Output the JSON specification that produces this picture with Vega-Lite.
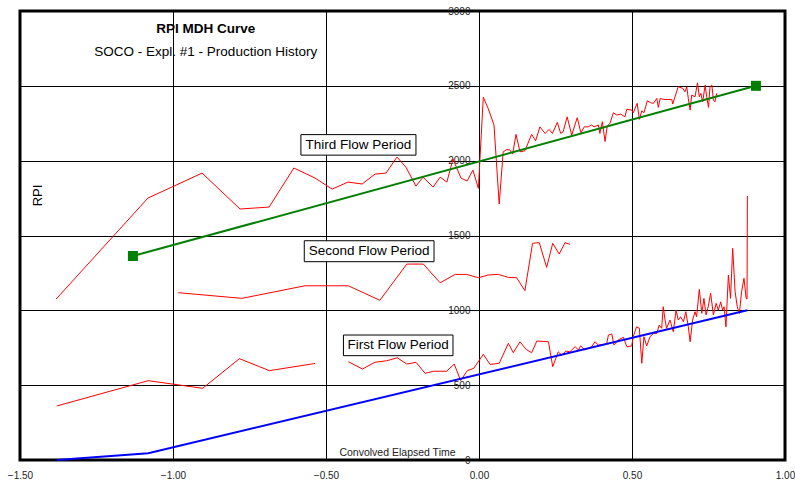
{
  "$schema": "https://vega.github.io/schema/vega-lite/v6.json",
  "width": 765,
  "height": 449,
  "autosize": "none",
  "padding": {"left": 20, "top": 11, "right": 10, "bottom": 24},
  "background": "white",
  "view": {"stroke": "black", "strokeWidth": 3},
  "config": {
    "font": "Liberation Sans",
    "axis": {"gridColor": "black", "gridWidth": 1, "gridOpacity": 1, "labelFont": "Liberation Sans", "labelColor": "#222", "labelFontSize": 10, "labelFlush": false, "labelOverlap": false, "domain": false, "ticks": false}
  },
  "datasets": {
    "rpi": [
      {"seg": "third", "t": -1.382, "rpi": 1075}, {"seg": "third", "t": -1.082, "rpi": 1750}, {"seg": "third", "t": -0.905, "rpi": 1917},
      {"seg": "third", "t": -0.781, "rpi": 1677}, {"seg": "third", "t": -0.686, "rpi": 1690}, {"seg": "third", "t": -0.605, "rpi": 1951},
      {"seg": "third", "t": -0.536, "rpi": 1884}, {"seg": "third", "t": -0.48, "rpi": 1810}, {"seg": "third", "t": -0.428, "rpi": 1857},
      {"seg": "third", "t": -0.382, "rpi": 1844}, {"seg": "third", "t": -0.34, "rpi": 1910}, {"seg": "third", "t": -0.304, "rpi": 1917},
      {"seg": "third", "t": -0.268, "rpi": 2024}, {"seg": "third", "t": -0.239, "rpi": 1957}, {"seg": "third", "t": -0.206, "rpi": 1830},
      {"seg": "third", "t": -0.183, "rpi": 1890}, {"seg": "third", "t": -0.15, "rpi": 1824}, {"seg": "third", "t": -0.127, "rpi": 1890},
      {"seg": "third", "t": -0.105, "rpi": 1857}, {"seg": "third", "t": -0.085, "rpi": 2011}, {"seg": "third", "t": -0.059, "rpi": 1884},
      {"seg": "third", "t": -0.039, "rpi": 1864}, {"seg": "third", "t": -0.02, "rpi": 1937}, {"seg": "third", "t": -0.002, "rpi": 1815},
      {"seg": "third", "t": 0.014, "rpi": 2423}, {"seg": "third", "t": 0.03, "rpi": 2349}, {"seg": "third", "t": 0.049, "rpi": 2238},
      {"seg": "third", "t": 0.066, "rpi": 1710}, {"seg": "third", "t": 0.079, "rpi": 2059}, {"seg": "third", "t": 0.091, "rpi": 2075},
      {"seg": "third", "t": 0.101, "rpi": 2071}, {"seg": "third", "t": 0.11, "rpi": 2044}, {"seg": "third", "t": 0.121, "rpi": 2176},
      {"seg": "third", "t": 0.134, "rpi": 2059}, {"seg": "third", "t": 0.15, "rpi": 2066}, {"seg": "third", "t": 0.172, "rpi": 2176},
      {"seg": "third", "t": 0.185, "rpi": 2133}, {"seg": "third", "t": 0.199, "rpi": 2226}, {"seg": "third", "t": 0.216, "rpi": 2182},
      {"seg": "third", "t": 0.229, "rpi": 2209}, {"seg": "third", "t": 0.24, "rpi": 2182}, {"seg": "third", "t": 0.256, "rpi": 2256},
      {"seg": "third", "t": 0.267, "rpi": 2182}, {"seg": "third", "t": 0.275, "rpi": 2193}, {"seg": "third", "t": 0.288, "rpi": 2293},
      {"seg": "third", "t": 0.303, "rpi": 2171}, {"seg": "third", "t": 0.321, "rpi": 2287}, {"seg": "third", "t": 0.333, "rpi": 2186},
      {"seg": "third", "t": 0.344, "rpi": 2226}, {"seg": "third", "t": 0.357, "rpi": 2226}, {"seg": "third", "t": 0.368, "rpi": 2238},
      {"seg": "third", "t": 0.376, "rpi": 2226}, {"seg": "third", "t": 0.39, "rpi": 2238}, {"seg": "third", "t": 0.395, "rpi": 2182},
      {"seg": "third", "t": 0.403, "rpi": 2260}, {"seg": "third", "t": 0.412, "rpi": 2128}, {"seg": "third", "t": 0.419, "rpi": 2231},
      {"seg": "third", "t": 0.428, "rpi": 2249}, {"seg": "third", "t": 0.439, "rpi": 2320}, {"seg": "third", "t": 0.45, "rpi": 2305},
      {"seg": "third", "t": 0.463, "rpi": 2311}, {"seg": "third", "t": 0.477, "rpi": 2293}, {"seg": "third", "t": 0.483, "rpi": 2343},
      {"seg": "third", "t": 0.499, "rpi": 2338}, {"seg": "third", "t": 0.504, "rpi": 2320}, {"seg": "third", "t": 0.517, "rpi": 2383},
      {"seg": "third", "t": 0.524, "rpi": 2276}, {"seg": "third", "t": 0.532, "rpi": 2333}, {"seg": "third", "t": 0.539, "rpi": 2320},
      {"seg": "third", "t": 0.55, "rpi": 2400}, {"seg": "third", "t": 0.561, "rpi": 2387}, {"seg": "third", "t": 0.57, "rpi": 2383},
      {"seg": "third", "t": 0.581, "rpi": 2416}, {"seg": "third", "t": 0.586, "rpi": 2356}, {"seg": "third", "t": 0.592, "rpi": 2416},
      {"seg": "third", "t": 0.603, "rpi": 2409}, {"seg": "third", "t": 0.63, "rpi": 2409}, {"seg": "third", "t": 0.633, "rpi": 2378},
      {"seg": "third", "t": 0.651, "rpi": 2494}, {"seg": "third", "t": 0.666, "rpi": 2483}, {"seg": "third", "t": 0.673, "rpi": 2460},
      {"seg": "third", "t": 0.679, "rpi": 2494}, {"seg": "third", "t": 0.684, "rpi": 2416}, {"seg": "third", "t": 0.69, "rpi": 2338},
      {"seg": "third", "t": 0.695, "rpi": 2438}, {"seg": "third", "t": 0.706, "rpi": 2427}, {"seg": "third", "t": 0.714, "rpi": 2520},
      {"seg": "third", "t": 0.72, "rpi": 2427}, {"seg": "third", "t": 0.725, "rpi": 2450}, {"seg": "third", "t": 0.731, "rpi": 2393},
      {"seg": "third", "t": 0.739, "rpi": 2505}, {"seg": "third", "t": 0.744, "rpi": 2427}, {"seg": "third", "t": 0.75, "rpi": 2356},
      {"seg": "third", "t": 0.755, "rpi": 2494}, {"seg": "third", "t": 0.761, "rpi": 2505}, {"seg": "third", "t": 0.766, "rpi": 2405},
      {"seg": "third", "t": 0.771, "rpi": 2393}, {"seg": "third", "t": 0.777, "rpi": 2450},

      {"seg": "second", "t": -0.983, "rpi": 1118}, {"seg": "second", "t": -0.775, "rpi": 1080}, {"seg": "second", "t": -0.569, "rpi": 1164},
      {"seg": "second", "t": -0.427, "rpi": 1164}, {"seg": "second", "t": -0.324, "rpi": 1067}, {"seg": "second", "t": -0.236, "rpi": 1309},
      {"seg": "second", "t": -0.182, "rpi": 1309}, {"seg": "second", "t": -0.127, "rpi": 1184}, {"seg": "second", "t": -0.078, "rpi": 1240},
      {"seg": "second", "t": -0.04, "rpi": 1240}, {"seg": "second", "t": -0.002, "rpi": 1218}, {"seg": "second", "t": 0.03, "rpi": 1236},
      {"seg": "second", "t": 0.063, "rpi": 1240}, {"seg": "second", "t": 0.096, "rpi": 1220}, {"seg": "second", "t": 0.123, "rpi": 1218},
      {"seg": "second", "t": 0.15, "rpi": 1131}, {"seg": "second", "t": 0.175, "rpi": 1448}, {"seg": "second", "t": 0.197, "rpi": 1452},
      {"seg": "second", "t": 0.221, "rpi": 1287}, {"seg": "second", "t": 0.241, "rpi": 1448}, {"seg": "second", "t": 0.262, "rpi": 1376},
      {"seg": "second", "t": 0.281, "rpi": 1452}, {"seg": "second", "t": 0.297, "rpi": 1441},

      {"seg": "first-a", "t": -1.38, "rpi": 361}, {"seg": "first-a", "t": -1.081, "rpi": 530}, {"seg": "first-a", "t": -0.903, "rpi": 479},
      {"seg": "first-a", "t": -0.783, "rpi": 677}, {"seg": "first-a", "t": -0.685, "rpi": 597}, {"seg": "first-a", "t": -0.536, "rpi": 645},

      {"seg": "first-b", "t": -0.427, "rpi": 657}, {"seg": "first-b", "t": -0.381, "rpi": 608}, {"seg": "first-b", "t": -0.34, "rpi": 653},
      {"seg": "first-b", "t": -0.302, "rpi": 663}, {"seg": "first-b", "t": -0.267, "rpi": 683}, {"seg": "first-b", "t": -0.236, "rpi": 641},
      {"seg": "first-b", "t": -0.206, "rpi": 653}, {"seg": "first-b", "t": -0.176, "rpi": 579}, {"seg": "first-b", "t": -0.149, "rpi": 593},
      {"seg": "first-b", "t": -0.106, "rpi": 593}, {"seg": "first-b", "t": -0.081, "rpi": 641}, {"seg": "first-b", "t": -0.06, "rpi": 531},
      {"seg": "first-b", "t": -0.038, "rpi": 597}, {"seg": "first-b", "t": -0.017, "rpi": 613}, {"seg": "first-b", "t": 0.014, "rpi": 706},
      {"seg": "first-b", "t": 0.036, "rpi": 639}, {"seg": "first-b", "t": 0.066, "rpi": 646}, {"seg": "first-b", "t": 0.096, "rpi": 780},
      {"seg": "first-b", "t": 0.112, "rpi": 717}, {"seg": "first-b", "t": 0.134, "rpi": 790}, {"seg": "first-b", "t": 0.154, "rpi": 739},
      {"seg": "first-b", "t": 0.172, "rpi": 717}, {"seg": "first-b", "t": 0.189, "rpi": 795}, {"seg": "first-b", "t": 0.227, "rpi": 790},
      {"seg": "first-b", "t": 0.241, "rpi": 623}, {"seg": "first-b", "t": 0.259, "rpi": 723}, {"seg": "first-b", "t": 0.27, "rpi": 701},
      {"seg": "first-b", "t": 0.284, "rpi": 728}, {"seg": "first-b", "t": 0.297, "rpi": 723}, {"seg": "first-b", "t": 0.314, "rpi": 757},
      {"seg": "first-b", "t": 0.325, "rpi": 735}, {"seg": "first-b", "t": 0.332, "rpi": 762}, {"seg": "first-b", "t": 0.346, "rpi": 735},
      {"seg": "first-b", "t": 0.368, "rpi": 757}, {"seg": "first-b", "t": 0.379, "rpi": 790}, {"seg": "first-b", "t": 0.39, "rpi": 768},
      {"seg": "first-b", "t": 0.417, "rpi": 775}, {"seg": "first-b", "t": 0.423, "rpi": 835}, {"seg": "first-b", "t": 0.434, "rpi": 842},
      {"seg": "first-b", "t": 0.441, "rpi": 768}, {"seg": "first-b", "t": 0.455, "rpi": 802}, {"seg": "first-b", "t": 0.472, "rpi": 820},
      {"seg": "first-b", "t": 0.483, "rpi": 757}, {"seg": "first-b", "t": 0.499, "rpi": 762}, {"seg": "first-b", "t": 0.504, "rpi": 824},
      {"seg": "first-b", "t": 0.515, "rpi": 890}, {"seg": "first-b", "t": 0.524, "rpi": 880}, {"seg": "first-b", "t": 0.532, "rpi": 646},
      {"seg": "first-b", "t": 0.539, "rpi": 824}, {"seg": "first-b", "t": 0.548, "rpi": 762}, {"seg": "first-b", "t": 0.559, "rpi": 824},
      {"seg": "first-b", "t": 0.57, "rpi": 846}, {"seg": "first-b", "t": 0.581, "rpi": 846}, {"seg": "first-b", "t": 0.589, "rpi": 902},
      {"seg": "first-b", "t": 0.597, "rpi": 880}, {"seg": "first-b", "t": 0.602, "rpi": 1024}, {"seg": "first-b", "t": 0.608, "rpi": 935},
      {"seg": "first-b", "t": 0.613, "rpi": 880}, {"seg": "first-b", "t": 0.624, "rpi": 935}, {"seg": "first-b", "t": 0.635, "rpi": 857},
      {"seg": "first-b", "t": 0.644, "rpi": 1002}, {"seg": "first-b", "t": 0.651, "rpi": 935}, {"seg": "first-b", "t": 0.659, "rpi": 957},
      {"seg": "first-b", "t": 0.668, "rpi": 924}, {"seg": "first-b", "t": 0.676, "rpi": 991}, {"seg": "first-b", "t": 0.684, "rpi": 890},
      {"seg": "first-b", "t": 0.69, "rpi": 790}, {"seg": "first-b", "t": 0.698, "rpi": 935}, {"seg": "first-b", "t": 0.706, "rpi": 991},
      {"seg": "first-b", "t": 0.711, "rpi": 957}, {"seg": "first-b", "t": 0.72, "rpi": 1140}, {"seg": "first-b", "t": 0.728, "rpi": 980},
      {"seg": "first-b", "t": 0.735, "rpi": 1080}, {"seg": "first-b", "t": 0.742, "rpi": 969}, {"seg": "first-b", "t": 0.749, "rpi": 1024},
      {"seg": "first-b", "t": 0.757, "rpi": 1114}, {"seg": "first-b", "t": 0.766, "rpi": 969}, {"seg": "first-b", "t": 0.775, "rpi": 1047},
      {"seg": "first-b", "t": 0.782, "rpi": 1002}, {"seg": "first-b", "t": 0.79, "rpi": 1057}, {"seg": "first-b", "t": 0.796, "rpi": 1002},
      {"seg": "first-b", "t": 0.801, "rpi": 1024}, {"seg": "first-b", "t": 0.807, "rpi": 890}, {"seg": "first-b", "t": 0.815, "rpi": 1236},
      {"seg": "first-b", "t": 0.822, "rpi": 1080}, {"seg": "first-b", "t": 0.829, "rpi": 1414}, {"seg": "first-b", "t": 0.837, "rpi": 1124},
      {"seg": "first-b", "t": 0.844, "rpi": 1024}, {"seg": "first-b", "t": 0.851, "rpi": 980}, {"seg": "first-b", "t": 0.858, "rpi": 1124},
      {"seg": "first-b", "t": 0.866, "rpi": 1214}, {"seg": "first-b", "t": 0.873, "rpi": 1080}, {"seg": "first-b", "t": 0.876, "rpi": 1075},
      {"seg": "first-b", "t": 0.877, "rpi": 1764}
    ],
    "fits": [
      {"fit": "first", "t": -1.38, "rpi": 0}, {"fit": "first", "t": -1.081, "rpi": 45}, {"fit": "first", "t": 0.877, "rpi": 1000},
      {"fit": "third", "t": -1.131, "rpi": 1363}, {"fit": "third", "t": 0.905, "rpi": 2500}
    ]
  },
  "layer": [
    {"data": {"name": "rpi"}, "mark": {"type": "line", "color": "#FF0000", "strokeWidth": 1},
      "encoding": {
        "x": {"field": "t", "type": "quantitative", "title": "Convolved Elapsed Time",
          "scale": {"domain": [-1.5, 1.0], "nice": false, "zero": false},
          "axis": {"values": [-1.5, -1.0, -0.5, 0, 0.5, 1.0], "format": ".2f", "labelPadding": 10, "grid": true,
            "titleFont": "Liberation Sans", "titleFontSize": 10.5, "titleFontWeight": "normal", "titleColor": "#222",
            "titleX": 377, "titleY": -5, "titleBaseline": "alphabetic", "titleAlign": "center"}},
        "y": {"field": "rpi", "type": "quantitative", "title": "RPI",
          "scale": {"domain": [0, 3000], "nice": false},
          "axis": {"values": [0, 500, 1000, 1500, 2000, 2500, 3000], "format": "d", "offset": -458, "labelPadding": 8, "grid": true,
            "titleFont": "Liberation Sans", "titleFontSize": 13, "titleFontWeight": "normal", "titleColor": "black",
            "titleX": -441, "titleY": 184, "titleAngle": -90, "titleBaseline": "middle", "titleAlign": "center"}},
        "detail": {"field": "seg"}}},
    {"data": {"name": "fits"}, "transform": [{"filter": "datum.fit === 'first'"}], "mark": {"type": "line", "color": "#0000FF", "strokeWidth": 2},
      "encoding": {"x": {"field": "t", "type": "quantitative"}, "y": {"field": "rpi", "type": "quantitative"}}},
    {"data": {"name": "fits"}, "transform": [{"filter": "datum.fit === 'third'"}], "mark": {"type": "line", "color": "#008000", "strokeWidth": 2},
      "encoding": {"x": {"field": "t", "type": "quantitative"}, "y": {"field": "rpi", "type": "quantitative"}}},
    {"data": {"name": "fits"}, "transform": [{"filter": "datum.fit === 'third'"}], "mark": {"type": "point", "shape": "square", "filled": true, "color": "#008000", "opacity": 1, "size": 100},
      "encoding": {"x": {"field": "t", "type": "quantitative"}, "y": {"field": "rpi", "type": "quantitative"}}},
    {"data": {"values": [{}]}, "mark": {"type": "rect", "fill": "white", "stroke": "black", "strokeWidth": 1},
      "encoding": {"x": {"datum": -0.582}, "x2": {"datum": -0.206}, "y": {"datum": 2174}, "y2": {"datum": 2037}}},
    {"data": {"values": [{}]}, "mark": {"type": "text", "font": "Liberation Sans", "fontSize": 13.5, "color": "black", "baseline": "middle", "align": "center"},
      "encoding": {"x": {"datum": -0.394}, "y": {"datum": 2106}, "text": {"value": "Third Flow Period"}}},
    {"data": {"values": [{}]}, "mark": {"type": "rect", "fill": "white", "stroke": "black", "strokeWidth": 1},
      "encoding": {"x": {"datum": -0.571}, "x2": {"datum": -0.147}, "y": {"datum": 1465}, "y2": {"datum": 1325}}},
    {"data": {"values": [{}]}, "mark": {"type": "text", "font": "Liberation Sans", "fontSize": 13.5, "color": "black", "baseline": "middle", "align": "center"},
      "encoding": {"x": {"datum": -0.359}, "y": {"datum": 1395}, "text": {"value": "Second Flow Period"}}},
    {"data": {"values": [{}]}, "mark": {"type": "rect", "fill": "white", "stroke": "black", "strokeWidth": 1},
      "encoding": {"x": {"datum": -0.443}, "x2": {"datum": -0.085}, "y": {"datum": 835}, "y2": {"datum": 697}}},
    {"data": {"values": [{}]}, "mark": {"type": "text", "font": "Liberation Sans", "fontSize": 13.5, "color": "black", "baseline": "middle", "align": "center"},
      "encoding": {"x": {"datum": -0.264}, "y": {"datum": 766}, "text": {"value": "First Flow Period"}}},
    {"data": {"values": [{}]}, "mark": {"type": "text", "font": "Liberation Sans", "fontSize": 13.5, "fontWeight": "bold", "color": "black", "baseline": "alphabetic", "align": "center"},
      "encoding": {"x": {"datum": -0.893}, "y": {"datum": 2852}, "text": {"value": "RPI MDH Curve"}}},
    {"data": {"values": [{}]}, "mark": {"type": "text", "font": "Liberation Sans", "fontSize": 13.5, "color": "black", "baseline": "alphabetic", "align": "center"},
      "encoding": {"x": {"datum": -0.893}, "y": {"datum": 2701}, "text": {"value": "SOCO - Expl. #1 - Production History"}}}
  ]
}
